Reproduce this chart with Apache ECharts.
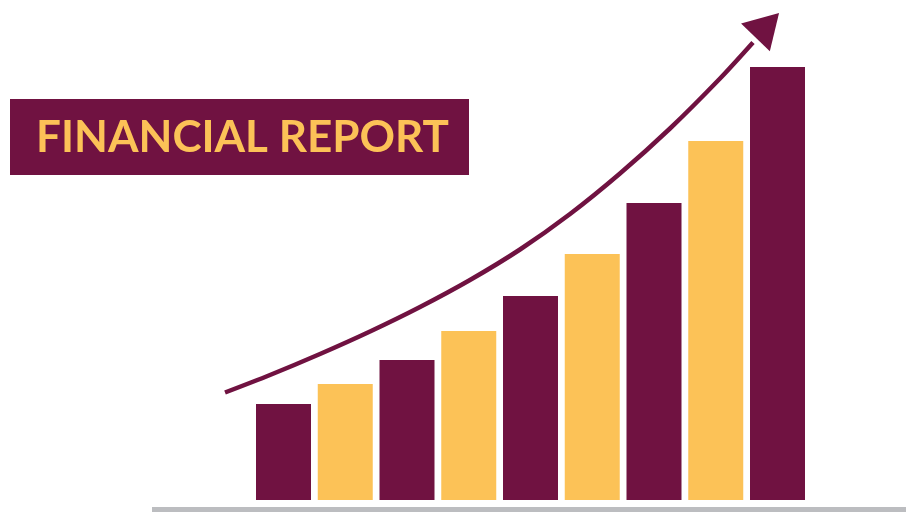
<!DOCTYPE html>
<html>
<head>
<meta charset="utf-8">
<script src="https://cdn.jsdelivr.net/npm/echarts@6/dist/echarts.min.js"></script>
<style>
html,body{margin:0;padding:0;background:#fff;}
#chart{width:906px;height:512px;}
</style>
</head>
<body>
<div id="chart"></div>
<script>
// ---- data ----
var categories = ['1', '2', '3', '4', '5', '6', '7', '8', '9'];
var barValues = [96, 116, 140, 169, 204, 246, 297, 359, 433];
// trend arrow path: x in category-index units, y in value units
var trendX = [-0.947, -0.219, 0.591, 1.401, 2.211, 3.020, 3.830, 4.640, 5.449, 6.259, 7.069, 7.603];
var trendY = [107.5, 125, 146, 168.5, 193, 220, 250.5, 286, 326.5, 371.5, 421.5, 457.5];
var arrowHead = [7.834, 474.75];
var titleText = 'FINANCIAL REPORT';

var MAROON = '#701241';
var GOLD = '#FCC257';

var chart = echarts.init(document.getElementById('chart'), null, {renderer: 'canvas'});

var barData = barValues.map(function (v, i) {
  return {value: v, itemStyle: {color: i % 2 === 0 ? MAROON : GOLD}};
});
var trendData = trendX.map(function (x, i) { return [x, trendY[i]]; });

chart.setOption({
  animation: false,
  backgroundColor: '#ffffff',
  grid: [
    {left: 252.625, width: 555.75, top: 0, bottom: 12},
    {left: 129.125, width: 741, top: 0, bottom: 12}
  ],
  xAxis: [
    {type: 'category', data: categories, show: false, boundaryGap: true, gridIndex: 0},
    {type: 'value', min: -2.5, max: 9.5, show: false, gridIndex: 1}
  ],
  yAxis: [
    {type: 'value', min: 0, max: 500, show: false, gridIndex: 0},
    {type: 'value', min: 0, max: 500, show: false, gridIndex: 1}
  ],
  graphic: [
    {type: 'rect', shape: {x: 152, y: 507, width: 754, height: 5}, style: {fill: '#BCBDC0'}, z: 1},
    {type: 'rect', shape: {x: 10, y: 99, width: 459, height: 76}, style: {fill: MAROON}, z: 5},
    {type: 'text', x: 242.5, y: 138, z: 6,
      style: {text: titleText, fill: GOLD, font: 'bold 44px Lato', align: 'center', verticalAlign: 'middle'}}
  ],
  series: [
    {type: 'bar', data: barData, barWidth: 55, xAxisIndex: 0, yAxisIndex: 0},
    {type: 'line', data: trendData, xAxisIndex: 1, yAxisIndex: 1, smooth: 0.3,
      showSymbol: false, symbol: 'none', clip: false,
      lineStyle: {color: MAROON, width: 4.5, cap: 'butt'}, z: 3},
    {type: 'scatter', data: [arrowHead], xAxisIndex: 1, yAxisIndex: 1, symbol: 'triangle',
      symbolSize: [40, 34], symbolRotate: -44, clip: false,
      itemStyle: {color: MAROON, opacity: 1}, z: 4}
  ]
});
</script>
</body>
</html>
